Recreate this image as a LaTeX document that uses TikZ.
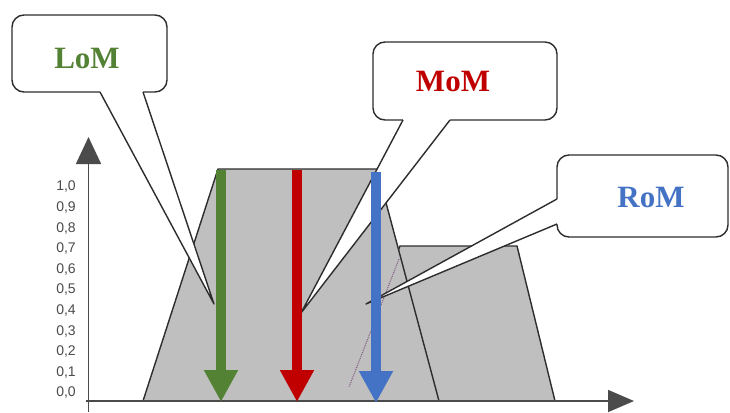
\documentclass[tikz,border=0pt]{standalone}
\usepackage{fontspec}
\setmainfont{Liberation Serif}
\newfontfamily\axisfont{Liberation Sans}
\usetikzlibrary{arrows.meta}

\definecolor{setgray}{RGB}{191,191,191}
\definecolor{edgegray}{RGB}{45,45,45}
\definecolor{axisgray}{RGB}{75,75,75}
\definecolor{lomgreen}{RGB}{84,130,53}
\definecolor{momred}{RGB}{192,0,0}
\definecolor{romblue}{RGB}{68,114,196}

\tikzset{
  setshape/.style={fill=setgray, draw=edgegray, line width=1.4pt, line join=round},
  hiddenedge/.style={draw=gray!70!violet, line width=1pt, densely dotted},
  axisline/.style={draw=axisgray, line width=1.6pt},
  ylab/.style={font=\axisfont\fontsize{14}{16}\selectfont, text=axisgray, inner sep=0pt},
  bubble/.style={fill=white, draw=edgegray, line width=1.4pt, rounded corners=12pt},
  pointer/.style={draw=edgegray, line width=1.4pt, line join=round},
  bubbletext/.style={font=\bfseries\fontsize{31}{36}\selectfont, inner sep=0pt},
  degree/.style={line width=10pt, -{Triangle[width=32pt,length=32pt]}}
}

\begin{document}
\begin{tikzpicture}[x=1pt,y=-1pt]
  \useasboundingbox (0,0) rectangle (730,412);
  \fill[white] (0,0) rectangle (730,412);

  % membership functions
  \path[setshape] (335,401) -- (400,246) -- (517,246) -- (555,401) -- cycle;
  \path[setshape] (143,401) -- (218,169) -- (377,169) -- (439,401) -- cycle;
  \draw[hiddenedge] (399,259) -- (349,387);

  % axes
  \coordinate (xstart) at (86,401);
  \coordinate (xend) at (634,401);
  \coordinate (ystart) at (88.5,412);
  \coordinate (yend) at (88.5,137);
  \draw[axisline, -{Triangle[width=22pt,length=26pt]}, shorten >=0pt] (xstart) -- (xend);
  \draw[axisline, -{Triangle[width=25pt,length=27pt]}] (ystart) -- (yend);

  % membership degree labels
  \foreach \v [count=\i from 0] in {0,1,...,9} {
    \node[ylab] (y\i) at (66,{393-20.6*\i}) {0,\v};
  }
  \node[ylab] (y10) at (66,187) {1,0};

  % LoM bubble
  \coordinate (lomtip) at (214,304);
  \coordinate (loma) at (100,92);
  \coordinate (lomb) at (143,92);
  \path[bubble] (12,15) rectangle (167,92);
  \fill[white] (loma) -- (lomtip) -- (lomb) -- (143,88) -- (100,88) -- cycle;
  \draw[pointer] (loma) -- (lomtip) -- (lomb);
  \node[bubbletext, text=lomgreen] (lom) at (87,59) {LoM};

  % MoM bubble
  \coordinate (momtip) at (301,313);
  \coordinate (moma) at (403,120);
  \coordinate (momb) at (450,120);
  \path[bubble] (373,42) rectangle (557,120);
  \fill[white] (moma) -- (momtip) -- (momb) -- (450,116) -- (403,116) -- cycle;
  \draw[pointer] (moma) -- (momtip) -- (momb);
  \node[bubbletext, text=momred] (mom) at (453,82) {MoM};

  % RoM bubble
  \coordinate (romtip) at (366,304);
  \coordinate (roma) at (557,199);
  \coordinate (romb) at (557,224);
  \path[bubble] (557,155) rectangle (728,237);
  \fill[white] (roma) -- (romtip) -- (romb) -- (561,224) -- (561,199) -- cycle;
  \draw[pointer] (roma) -- (romtip) -- (romb);
  \node[bubbletext, text=romblue] (rom) at (651,197) {RoM};

  % degree arrows
  \coordinate (gtop) at (221,170);
  \coordinate (gbot) at (221,402);
  \coordinate (rtop) at (297,170);
  \coordinate (rbot) at (297,402);
  \coordinate (btop) at (376,172);
  \coordinate (bbot) at (376,403);
  \draw[degree, draw=lomgreen, fill=lomgreen] (gtop) -- (gbot);
  \draw[degree, draw=momred, fill=momred] (rtop) -- (rbot);
  \draw[degree, draw=romblue, fill=romblue] (btop) -- (bbot);
\end{tikzpicture}
\end{document}
